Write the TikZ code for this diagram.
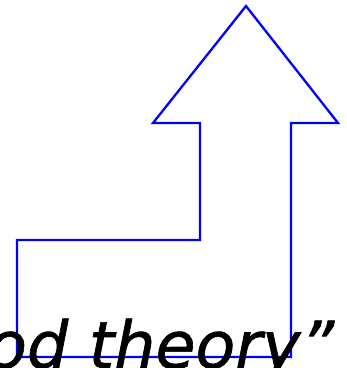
\documentclass[tikz,border=0pt]{standalone}
\usepackage{fontspec}
\usepackage{xcolor}
\usepackage{tikz}
\usetikzlibrary{positioning}
\newfontfamily\quotefont[ItalicFeatures={FakeBold=1}]{DejaVu Sans}
\definecolor{arrowblue}{RGB}{0, 0, 255}

\begin{document}
\begin{tikzpicture}[
    x=1pt, y=-1pt,
    bentarrow/.style={draw=arrowblue, line width=2.3pt, line join=miter},
    quote/.style={anchor=base west, inner sep=0pt, text=black,
                  font=\quotefont\itshape\fontsize{65}{65}\selectfont}
]
    \useasboundingbox (0,0) rectangle (347,368);
    % outline of the bent arrow
    \coordinate (tip) at (246,6);
    \coordinate (headR) at (338,123);
    \coordinate (shaftR) at (291,123);
    \coordinate (baseR) at (291,357);
    \coordinate (baseL) at (17,357);
    \coordinate (stepL) at (17,240);
    \coordinate (stepR) at (200,240);
    \coordinate (shaftL) at (200,123);
    \coordinate (headL) at (153,123);
    \draw[bentarrow] (tip) -- (headR) -- (shaftR) -- (baseR) -- (baseL)
        -- (stepL) -- (stepR) -- (shaftL) -- (headL) -- cycle;
    \node[quote] (caption) at (-13,368) {od theory”};
\end{tikzpicture}
\end{document}
